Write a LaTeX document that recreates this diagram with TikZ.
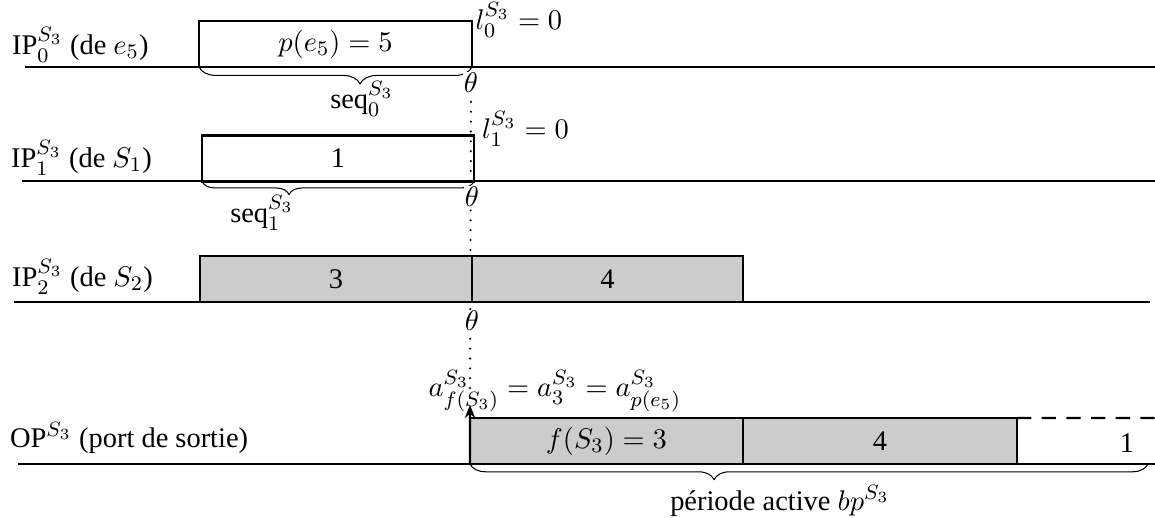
\documentclass[11pt,tikz,border=0pt]{standalone}
\usepackage{fontspec}
\setmainfont{Liberation Serif}
\usetikzlibrary{arrows.meta, calc, decorations.pathreplacing}
\definecolor{slotgray}{HTML}{CCCCCC}

\begin{document}
\begin{tikzpicture}[
    x=0.385pt, y=-0.385pt,
    axis/.style={thick},
    slot/.style={draw=black, thick, minimum height=17.7pt, inner sep=0pt, outer sep=0pt},
    busy/.style={slot, fill=slotgray},
    note/.style={inner sep=1pt},
    tick/.style={inner sep=0.5pt, fill=white},
    brc/.style={decorate, decoration={brace, mirror, amplitude=#1}},
    brc/.default=6pt]
    \useasboundingbox (0,0) rectangle (1155,518);

    % the dotted line from theta down to the arrival instant
    \coordinate (dtop) at (471,92);
    \coordinate (arr) at (470,405);
    \draw[line width=0.9pt, line cap=round, dash pattern=on 0pt off 3.8pt] (dtop) -- (arr);

    % ================= port 0: from e5 =================
    \node[note, anchor=west] (ip0) at (9,45) {IP$_0^{S_3}$ (de $e_5$)};
    \coordinate (ax0l) at (25,67);
    \coordinate (ax0r) at (1155,67);
    \draw[axis] (ax0l) -- (ax0r);
    \node[slot, minimum width=105.1pt] (p0) at (335.5,44) {$p(e_5) = 5$};
    \draw[brc=6.5pt, decoration={aspect=0.59}] (p0.south west) -- (p0.south east);
    \node[note] (seq0) at (362,99) {seq$_0^{S_3}$};
    \node[note, inner sep=0pt, anchor=north west] (l0) at (475,2) {$l_0^{S_3} = 0$};
    \node[tick] (th0) at (471,83) {$\theta$};

    % ================= port 1: from S1 =================
    \node[note, anchor=west] (ip1) at (8,158) {IP$_1^{S_3}$ (de $S_1$)};
    \coordinate (ax1l) at (22,181);
    \coordinate (ax1r) at (1155,181);
    \draw[axis] (ax1l) -- (ax1r);
    \node[slot, minimum width=104.7pt] (p1) at (338,158.5) {1};
    \draw[brc=5pt, decoration={aspect=0.32}] (p1.south west) -- (p1.south east);
    \node[note] (seq1) at (262,213) {seq$_1^{S_3}$};
    \node[note, anchor=west] (l1) at (479,129) {$l_1^{S_3} = 0$};
    \node[tick] (th1) at (472,197) {$\theta$};

    % ================= port 2: from S2 =================
    \node[note, anchor=west] (ip2) at (9,277) {IP$_2^{S_3}$ (de $S_2$)};
    \coordinate (ax2l) at (14,302);
    \coordinate (ax2r) at (1150,302);
    \draw[axis] (ax2l) -- (ax2r);
    \node[busy, minimum width=104.7pt] (r0) at (336,279) {3};
    \node[busy, minimum width=104.3pt, anchor=west] (r1) at (r0.east) {4};
    \node[tick] (th2) at (472,321) {$\theta$};

    % ================= output port =================
    \node[note, anchor=west] (op) at (7,438) {OP$^{S_3}$ (port de sortie)};
    \coordinate (ax3l) at (18,464);
    \coordinate (ax3r) at (1155,464);
    \draw[axis] (ax3l) -- (ax3r);
    \node[busy, minimum width=105.1pt] (q0) at (606.5,441) {$f(S_3) = 3$};
    \node[busy, minimum width=105.5pt, anchor=west] (q1) at (q0.east) {4};
    \coordinate (qend) at (1155,418);
    \draw[thick, dash pattern=on 5.5pt off 4pt] (q1.north east) -- (qend);
    \node[note] (q2) at (1127,443) {1};
    \coordinate (brend) at (1148,464);
    \draw[brc=6pt, decoration={aspect=0.36}] (q0.south west) -- (brend);
    \node[note] (bp) at (780,501) {période active $bp^{S_3}$};

    % the arrival instant
    \draw[thick, -{Stealth[length=5pt, width=4pt]}] (q0.south west) -- (arr);
    \node[note] (aeq) at (555,391) {$a^{S_3}_{f(S_3)} = a^{S_3}_3 = a^{S_3}_{p(e_5)}$};
\end{tikzpicture}
\end{document}
